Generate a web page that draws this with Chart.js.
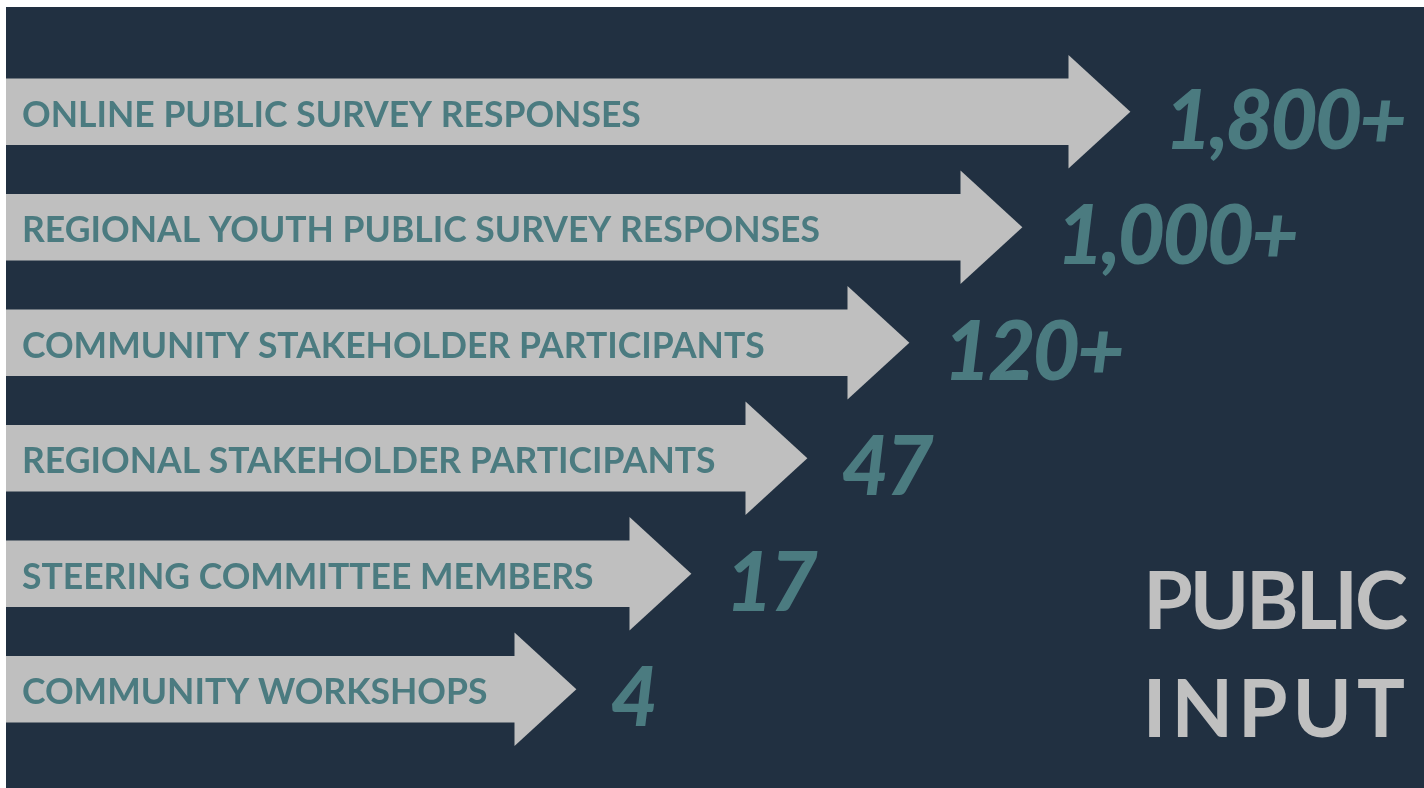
<!DOCTYPE html>
<html>
<head>
<meta charset="utf-8">
<title>Public Input</title>
<script src="https://cdn.jsdelivr.net/npm/chart.js@4"></script>
<style>
    html, body { margin: 0; padding: 0; background: #ffffff; }
    #wrap {
        position: absolute; left: 6px; top: 7px;
        width: 1418px; height: 781px;
        background: #213041;
    }
</style>
</head>
<body>
<div id="wrap"><canvas id="inputChart"></canvas></div>
<script>
// --- Data ---
const categories = [
    'ONLINE PUBLIC SURVEY RESPONSES',
    'REGIONAL YOUTH PUBLIC SURVEY RESPONSES',
    'COMMUNITY STAKEHOLDER PARTICIPANTS',
    'REGIONAL STAKEHOLDER PARTICIPANTS',
    'STEERING COMMITTEE MEMBERS',
    'COMMUNITY WORKSHOPS'
];
const countLabels = ['1,800+', '1,000+', '120+', '47', '17', '4'];
// shaft length of each arrow (decorative ranking, not to scale with the counts)
const arrowReach = [1063, 955, 842, 740, 624, 509];
const titleLines = ['PUBLIC', 'INPUT'];

// --- Colours ---
const ARROW_GREY = '#bfbfbf';
const TEAL = '#4b7b80';
const TITLE_GREY = '#c0c0c0';

// Draws the arrow heads, the labels inside the arrows and the counts after them
const arrowPlugin = {
    id: 'arrowHeads',
    afterDatasetsDraw(chart) {
        const ctx = chart.ctx;
        const meta = chart.getDatasetMeta(0);
        ctx.save();
        meta.data.forEach((bar, i) => {
            const h = bar.height;
            const headHalf = h * 0.86;
            const headLen = h * 0.93;
            // head
            ctx.fillStyle = ARROW_GREY;
            ctx.beginPath();
            ctx.moveTo(bar.x - 0.5, bar.y - headHalf);
            ctx.lineTo(bar.x + headLen, bar.y);
            ctx.lineTo(bar.x - 0.5, bar.y + headHalf);
            ctx.closePath();
            ctx.fill();

            // category text inside the shaft
            ctx.fillStyle = TEAL;
            ctx.font = '700 35.5px Lato';
            ctx.letterSpacing = '0px';
            ctx.textAlign = 'left';
            ctx.textBaseline = 'alphabetic';
            ctx.fillText(categories[i], bar.base + 16, bar.y + 15);

            // count
            ctx.font = 'italic 900 82px Lato';
            ctx.letterSpacing = '-3px';
            ctx.fillText(countLabels[i], bar.x + headLen + 34, bar.y + 37);
        });

        // side title
        ctx.fillStyle = TITLE_GREY;
        ctx.textAlign = 'right';
        ctx.font = '700 80px Lato';
        ctx.letterSpacing = '-3px';
        ctx.fillText(titleLines[0], chart.chartArea.right - 19, 622);
        ctx.letterSpacing = '5px';
        ctx.fillText(titleLines[1], chart.chartArea.right - 14, 730);
        ctx.restore();
    }
};

const ctx = document.getElementById('inputChart').getContext('2d');
new Chart(ctx, {
    type: 'bar',
    data: {
        labels: categories,
        datasets: [{
            data: arrowReach,
            backgroundColor: ARROW_GREY,
            borderWidth: 0,
            barThickness: 66
        }]
    },
    options: {
        indexAxis: 'y',
        responsive: true,
        maintainAspectRatio: false,
        animation: false,
        layout: { padding: { left: 0, right: 0, top: 47, bottom: 41 } },
        scales: {
            x: { display: false, min: 0, max: 1418 },
            y: { display: false }
        },
        plugins: {
            legend: { display: false },
            tooltip: { enabled: false }
        }
    },
    plugins: [arrowPlugin]
});
</script>
</body>
</html>
